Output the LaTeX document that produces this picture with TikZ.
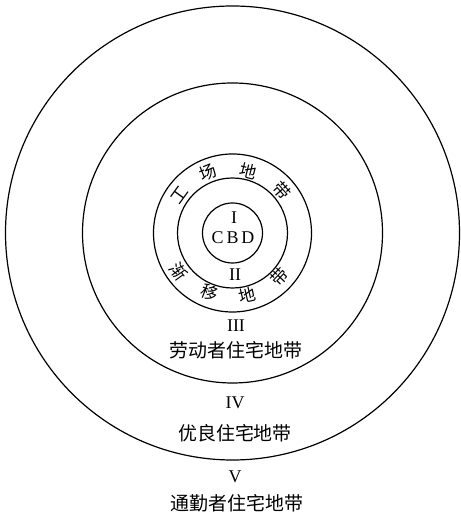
\documentclass[tikz,border=0pt]{standalone}
\usepackage{fontspec}
\setmainfont{Liberation Serif}
\newfontfamily\cjk{Noto Sans CJK SC}
\usetikzlibrary{calc}
\begin{document}
\begin{tikzpicture}[x=1bp,y=1bp,
  ring/.style={draw,circle,line width=1.2bp,inner sep=0pt,outer sep=0pt},
  lab/.style={font=\fontsize{18}{18}\selectfont,inner sep=0pt},
  zh/.style={font=\fontsize{19}{19}\cjk\selectfont,inner sep=0pt},
  arcch/.style={font=\fontsize{17}{17}\cjk\selectfont,inner sep=0pt}]
\useasboundingbox (0,0) rectangle (461,516);
\coordinate (c) at (232.5,283);
\node[ring,minimum size=454bp] (r5) at (c) {};
\node[ring,minimum size=300bp] (r4) at (c) {};
\node[ring,minimum size=158bp] (r3) at (c) {};
\node[ring,minimum size=110bp] (r2) at (c) {};
\node[ring,minimum size=60bp] (r1) at (c) {};
% zone I
\node[lab] (n1) at (234,298) {I};
\node[lab] (cbd) at (233,278) {C\kern3bp B\kern3bp D};
% zone II
\node[lab] (n2) at (235,241) {II};
\node[arcch,rotate=54] (a1) at ($(c)+(144:65)$) {工};
\node[arcch,rotate=22] (a2) at ($(c)+(112:65)$) {场};
\node[arcch,rotate=-14] (a3) at ($(c)+(76:64)$) {地};
\node[arcch,rotate=-49] (a4) at ($(c)+(41:65)$) {带};
\node[arcch,rotate=-54] (b1) at ($(c)+(216:66)$) {渐};
\node[arcch,rotate=-21] (b2) at ($(c)+(249:64)$) {移};
\node[arcch,rotate=13] (b3) at ($(c)+(283:64)$) {地};
\node[arcch,rotate=47] (b4) at ($(c)+(317:65)$) {带};
% zone III
\node[lab] (n3) at (236,190) {III};
\node[zh] (z3) at (236,166) {劳动者住宅地带};
% zone IV
\node[lab] (n4) at (235,113) {IV};
\node[zh] (z4) at (235,83) {优良住宅地带};
% zone V
\node[lab] (n5) at (235,39) {V};
\node[zh] (z5) at (237,13) {通勤者住宅地带};
\end{tikzpicture}
\end{document}
